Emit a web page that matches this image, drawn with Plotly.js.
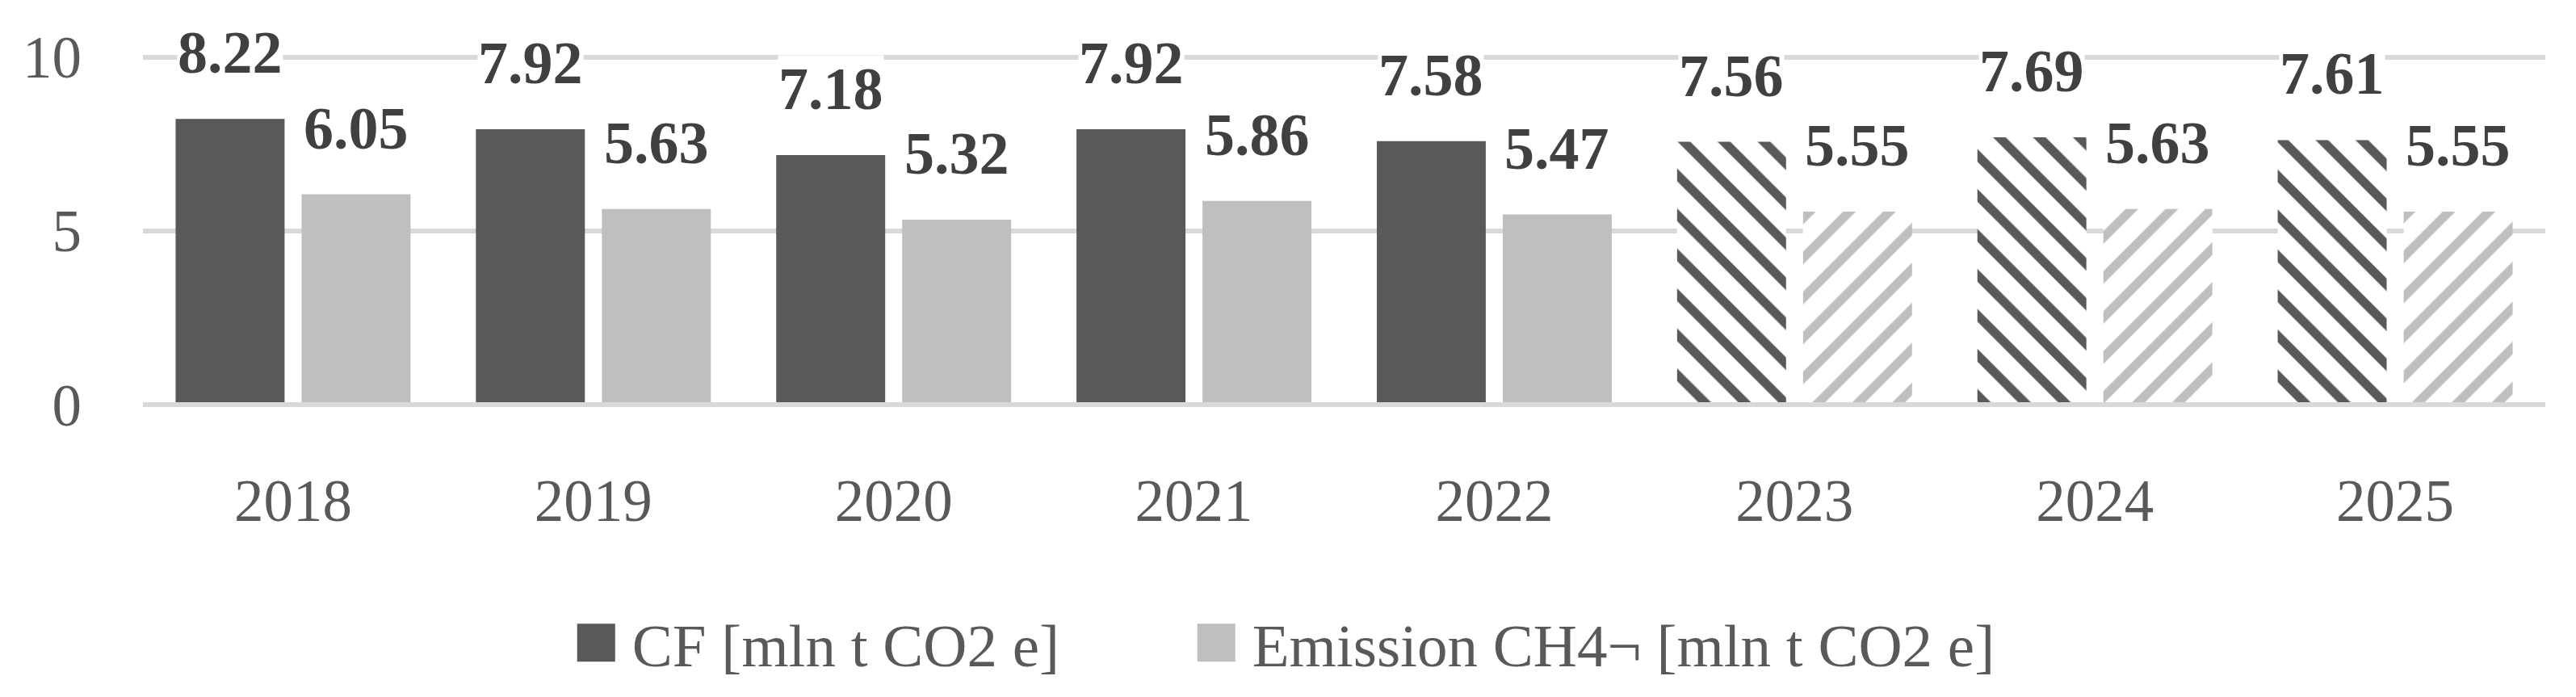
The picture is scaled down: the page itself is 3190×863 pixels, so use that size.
<!DOCTYPE html>
<html><head><meta charset="utf-8">
<script src="https://cdn.plot.ly/plotly-3.0.1.min.js"></script>
<style>html,body{margin:0;padding:0;background:#fff;}#chart{width:3190px;height:863px;}</style>
</head><body><div id="chart"></div>
<script>
const years = ['2018','2019','2020','2021','2022','2023','2024','2025'];
const cfValues = [8.22, 7.92, 7.18, 7.92, 7.58, 7.56, 7.69, 7.61];
const ch4Values = [6.05, 5.63, 5.32, 5.86, 5.47, 5.55, 5.63, 5.55];
const forecast = [false, false, false, false, false, true, true, true];
const seriesNames = ['CF [mln t CO2 e]', 'Emission CH4\u00ac [mln t CO2 e]'];
const yTicks = [0, 5, 10];

const CF_COLOR = '#595959', CH4_COLOR = '#bfbfbf';
const FONT = 'Liberation Serif, Times New Roman, serif';
const Y_MAX = 10.5;

function barTrace(vals, name, color, hatch, lw) {
  return {
    type: 'bar', x: years, y: vals, name: name, showlegend: true, legendwidth: lw,
    marker: {
      color: color, line: {width: 0},
      pattern: {shape: forecast.map(f => f ? hatch : ''), bgcolor: '#ffffff', fgcolor: color,
                size: 35, solidity: 0.32, fillmode: 'replace'}
    },
    hoverinfo: 'skip', cliponaxis: false
  };
}

const annotations = [];
[[cfValues, -78], [ch4Values, 78]].forEach(([vals, dx]) => {
  vals.forEach((v, j) => {
    annotations.push({
      x: j, y: v, xref: 'x', yref: 'y', text: v.toFixed(2), showarrow: false,
      xshift: dx, yshift: 82, yanchor: 'middle', xanchor: 'center',
      bgcolor: '#ffffff', borderpad: 0,
      font: {family: FONT, size: 74, color: '#404040', weight: 700}
    });
  });
});

const data = [
  barTrace(cfValues, seriesNames[0], CF_COLOR, '\\', 674),
  barTrace(ch4Values, seriesNames[1], CH4_COLOR, '/', 1000)
];

const layout = {
  width: 3190, height: 863,
  margin: {l: 177, r: 38, t: 49, b: 349},
  paper_bgcolor: '#ffffff', plot_bgcolor: '#ffffff',
  barmode: 'group', bargap: 0.161, bargroupgap: 0.135,
  font: {family: FONT, color: '#595959'},
  xaxis: {
    type: 'category', categoryarray: years, range: [-0.5, years.length - 0.5],
    showgrid: false, zeroline: false, showline: false, ticks: '',
    tickfont: {family: FONT, size: 73, color: '#595959'}, ticklabelstandoff: 70
  },
  yaxis: {
    range: [0, Y_MAX], tickmode: 'array', tickvals: yTicks, ticktext: yTicks.map(String),
    showgrid: true, gridcolor: '#d9d9d9', gridwidth: 6,
    zeroline: true, zerolinecolor: '#d9d9d9', zerolinewidth: 6, zerolinelayer: 'above traces',
    showline: false, ticks: '',
    tickfont: {family: FONT, size: 73, color: '#595959'}, ticklabelstandoff: 75
  },
  showlegend: true,
  legend: {
    orientation: 'h', x: 0.1737, xanchor: 'left', y: -0.53, yanchor: 'top',
    font: {family: FONT, size: 75, color: '#595959'},
    itemwidth: 79, entrywidthmode: 'pixels',
    traceorder: 'normal', bgcolor: 'rgba(0,0,0,0)', borderwidth: 0,
    itemclick: false, itemdoubleclick: false
  },
  annotations: annotations
};

Plotly.newPlot('chart', data, layout, {staticPlot: true, displayModeBar: false}).then(gd => {
  // enlarge the legend swatches to match the reference's large squares
  gd.querySelectorAll('.legend .legendpoints path').forEach(p => {
    const t = p.getAttribute('transform') || '';
    p.setAttribute('transform', t + ' scale(3.92)');
    p.style.strokeWidth = '0px';
  });
});
</script>
</body></html>
